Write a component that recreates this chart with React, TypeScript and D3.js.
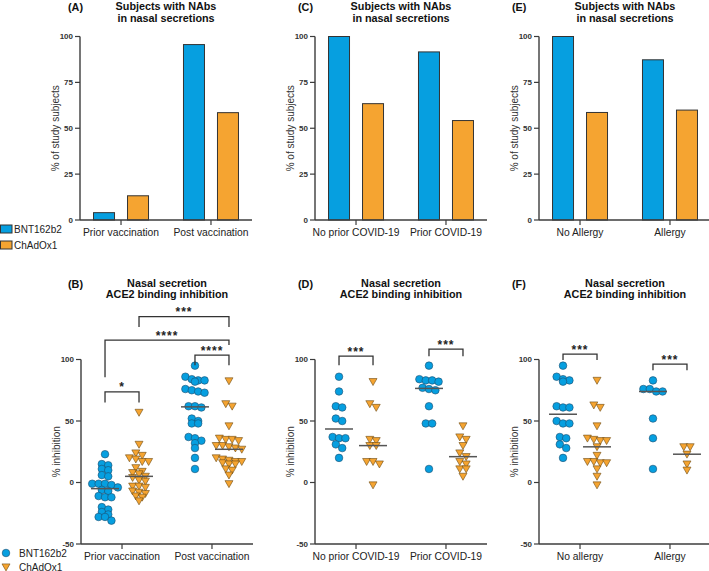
import React from "react";
import * as d3 from "d3";

const FONT = "Arial, 'Liberation Sans', Helvetica, sans-serif";
const BLUE = "#069fe0";
const ORANGE = "#f5a431";
const AXIS = "#3c3c3c";

// categories
const series = ["BNT162b2", "ChAdOx1"];
const groupsAB = ["Prior vaccination", "Post vaccination"];
const groupsCD = ["No prior COVID-19", "Prior COVID-19"];
const groupsE = ["No Allergy", "Allergy"];
const groupsF = ["No allergy", "Allergy"];

// % of subjects with NAbs (bars)
const barA_BNT = [4, 95.6];
const barA_ChAd = [13.2, 58.5];
const barC_BNT = [100, 91.6];
const barC_ChAd = [63.4, 54.2];
const barE_BNT = [100, 87.3];
const barE_ChAd = [58.6, 59.9];

const pctTicks = [0, 25, 50, 75, 100];
const inhTicks = [-50, 0, 50, 100];

// % ACE2 binding inhibition (dots)
const bPriorBNT = [23, 15, 14, 11, 10, 6, 5, -1, -1, -1, -2, -4, -6, -7, -11, -12, -12, -20, -22, -24, -26, -28, -28, -31];
const bPriorChAd = [57, 31, 24, 22, 20, 19, 17, 17, 12, 9, 8, 7, 5, 4, 2, 1, -3, -3, -4, -7, -8, -9, -11, -12, -15];
const bPostBNT = [95, 86, 84, 83, 83, 82, 76, 75, 74, 73, 62, 62, 61, 52, 50, 48, 48, 37, 36, 34, 32, 28, 20, 11];
const bPostChAd = [82.6, 64, 62, 46, 36, 35, 35, 34, 30, 30, 29, 28, 27, 20, 19, 18, 17, 17, 16, 15, 15, 11, 10, 6, -1];

const dNoPriorBNT = [86, 74, 62, 61, 52, 50, 37, 36, 36, 31, 28, 20];
const dNoPriorChAd = [82, 64, 61, 35, 34, 30, 30, 17, 17, 15, -2];
const dPriorBNT = [95, 84, 83, 83, 82, 77, 76, 75, 62, 48, 48, 11];
const dPriorChAd = [46, 37, 35, 30, 24, 21, 17, 15, 11, 11, 5];

const fNoAllergyBNT = [95, 86, 84, 83, 82, 62, 61, 61, 50, 48, 48, 37, 36, 31, 28, 20];
const fNoAllergyChAd = [83, 63, 61, 46, 36, 35, 34, 34, 29, 22, 17, 17, 16, 16, 11, 5, -2];
const fAllergyBNT = [83, 76, 76, 74, 74, 52, 36, 11];
const fAllergyChAd = [29, 29, 23, 15, 10];

// significance brackets: [group, series] endpoints, levels in % inhibition
const bracketsB = [
  { from: [0, 0], to: [0, 1], top: 73.6, l: 65, r: 65, label: "*" },
  { from: [0, 0], to: [1, 1], top: 115.8, l: 85.6, r: 111.7, label: "****" },
  { from: [0, 1], to: [1, 1], top: 134.8, l: 126.4, r: 126.4, label: "***" },
  { from: [1, 0], to: [1, 1], top: 103.5, l: 95.4, r: 95.4, label: "****" },
];
const bracketsD = [
  { from: [0, 0], to: [0, 1], top: 102.7, l: 95.4, r: 95.4, label: "***" },
  { from: [1, 0], to: [1, 1], top: 108.4, l: 102.7, r: 102.7, label: "***" },
];
const bracketsF = [
  { from: [0, 0], to: [0, 1], top: 104.3, l: 99.5, r: 99.5, label: "***" },
  { from: [1, 0], to: [1, 1], top: 96.2, l: 91.3, r: 91.3, label: "***" },
];

const PW = 172;
const OFF = 17;
const R = 3.8;

function Title({ cx, y1, letter, lx, lines }) {
  return (
    <g fontFamily={FONT} fontWeight="bold" fontSize={10.8} fill="#111">
      <text x={lx} y={y1 + 1}>{letter}</text>
      <text x={cx} y={y1} textAnchor="middle">{lines[0]}</text>
      <text x={cx} y={y1 + 11.5} textAnchor="middle">{lines[1]}</text>
    </g>
  );
}

function Axes({ x0, x, y, ticks, yLabel, groups }) {
  const [yb, yt] = y.range();
  return (
    <g>
      <line x1={x0} x2={x0} y1={yb} y2={yt} stroke={AXIS} strokeWidth={1.4} />
      <line x1={x0} x2={x0 + PW} y1={yb} y2={yb} stroke={AXIS} strokeWidth={1.4} />
      {ticks.map((t) => (
        <g key={t}>
          <line x1={x0 - 5} x2={x0} y1={y(t)} y2={y(t)} stroke={AXIS} strokeWidth={1.2} />
          <text x={x0 - 7} y={y(t)} dy="0.35em" textAnchor="end" fontFamily={FONT} fontWeight="bold" fontSize={8} fill="#333">{t}</text>
        </g>
      ))}
      {groups.map((g) => (
        <g key={g}>
          <line x1={x(g)} x2={x(g)} y1={yb} y2={yb + 5} stroke={AXIS} strokeWidth={1.2} />
          <text x={x(g)} y={yb + 15.5} textAnchor="middle" fontFamily={FONT} fontSize={10.3} fill="#222">{g}</text>
        </g>
      ))}
      <text transform={`translate(${x0 - 25},${(yb + yt) / 2}) rotate(-90)`} textAnchor="middle" dy="0.35em" fontFamily={FONT} fontSize={10} fill="#333">{yLabel}</text>
    </g>
  );
}

function BarPanel({ x0, lx, letter, groups, bnt, chad }) {
  const x = d3.scalePoint().domain(groups).range([x0, x0 + PW]).padding(0.456);
  const y = d3.scaleLinear().domain([0, 100]).range([220, 36.5]);
  const s = d3.scalePoint().domain(series).range([-OFF, OFF]);
  const vals = [bnt, chad];
  return (
    <g>
      <Title cx={x0 + PW / 2} y1={10} letter={letter} lx={lx} lines={["Subjects with NAbs", "in nasal secretions"]} />
      {groups.map((g, gi) =>
        series.map((sr, si) => (
          <rect key={g + sr} x={x(g) + s(sr) - 10.5} width={21} y={y(vals[si][gi])} height={y(0) - y(vals[si][gi])}
            fill={si === 0 ? BLUE : ORANGE} stroke="#333" strokeWidth={1} />
        ))
      )}
      <Axes x0={x0} x={x} y={y} ticks={pctTicks} yLabel="% of study subjects" groups={groups} />
    </g>
  );
}

function swarm(vals, y, cx) {
  const pts = vals.map((v) => ({ v, py: y(v), px: cx })).sort((a, b) => a.py - b.py);
  const rows = [];
  pts.forEach((p) => {
    const row = rows[rows.length - 1];
    if (row && p.py - row[0].py < 4.6) row.push(p);
    else rows.push([p]);
  });
  rows.forEach((row) => row.forEach((p, i) => (p.px = cx + (i - (row.length - 1) / 2) * 6.4)));
  return pts;
}

const tri = (x, y) => `M${x - 4},${y - 3.1}L${x + 4},${y - 3.1}L${x},${y + 3.9}Z`;

function DotPanel({ x0, lx, letter, groups, data, brackets }) {
  const x = d3.scalePoint().domain(groups).range([x0, x0 + PW]).padding(0.456);
  const y = d3.scaleLinear().domain([-50, 100]).range([544, 359.5]);
  const s = d3.scalePoint().domain(series).range([-OFF, OFF]);
  const cx = (gi, si) => x(groups[gi]) + s(series[si]);
  return (
    <g>
      <Title cx={x0 + PW / 2} y1={286.5} letter={letter} lx={lx} lines={["Nasal secretion", "ACE2 binding inhibition"]} />
      <Axes x0={x0} x={x} y={y} ticks={inhTicks} yLabel="% inhibition" groups={groups} />
      {data.map((grp, gi) =>
        grp.map((vals, si) => {
          const c = cx(gi, si);
          const pts = swarm(vals, y, c);
          const med = d3.median(vals);
          return (
            <g key={`${gi}-${si}`}>
              {pts.map((p, i) =>
                si === 0 ? (
                  <circle key={i} cx={p.px} cy={p.py} r={R} fill={BLUE} stroke="#1d4e6e" strokeWidth={0.6} />
                ) : (
                  <path key={i} d={tri(p.px, p.py)} fill={ORANGE} stroke="#6b4a12" strokeWidth={0.6} />
                )
              )}
              <line x1={c - 14} x2={c + 14} y1={y(med)} y2={y(med)} stroke="#555" strokeWidth={1.5} />
            </g>
          );
        })
      )}
      {brackets.map((b, i) => {
        const xa = cx(b.from[0], b.from[1]);
        const xb = cx(b.to[0], b.to[1]);
        return (
          <g key={i}>
            <path d={`M${xa},${y(b.l)}V${y(b.top)}H${xb}V${y(b.r)}`} fill="none" stroke="#333" strokeWidth={1.3} />
            <text x={(xa + xb) / 2} y={y(b.top) - 0.5} textAnchor="middle" fontFamily={FONT} fontWeight="bold" fontSize={12} letterSpacing={1} fill="#222">{b.label}</text>
          </g>
        );
      })}
    </g>
  );
}

export default function App() {
  return (
    <svg width={709} height={571} style={{ position: "absolute", left: 0, top: 0, background: "#fff" }}>
      <rect width={709} height={571} fill="#fff" />
      <BarPanel x0={80} lx={68} letter="(A)" groups={groupsAB} bnt={barA_BNT} chad={barA_ChAd} />
      <BarPanel x0={315} lx={298} letter="(C)" groups={groupsCD} bnt={barC_BNT} chad={barC_ChAd} />
      <BarPanel x0={539} lx={512} letter="(E)" groups={groupsE} bnt={barE_BNT} chad={barE_ChAd} />

      <DotPanel x0={81} lx={68} letter="(B)" groups={groupsAB} data={[[bPriorBNT, bPriorChAd], [bPostBNT, bPostChAd]]} brackets={bracketsB} />
      <DotPanel x0={315} lx={298} letter="(D)" groups={groupsCD} data={[[dNoPriorBNT, dNoPriorChAd], [dPriorBNT, dPriorChAd]]} brackets={bracketsD} />
      <DotPanel x0={539} lx={512} letter="(F)" groups={groupsF} data={[[fNoAllergyBNT, fNoAllergyChAd], [fAllergyBNT, fAllergyChAd]]} brackets={bracketsF} />

      {/* legend for bars */}
      <g fontFamily={FONT} fontSize={10} fill="#222">
        {series.map((sr, i) => (
          <g key={sr} transform={`translate(0,${225 + i * 16})`}>
            <rect x={0.5} y={0} width={11.5} height={8} fill={i === 0 ? BLUE : ORANGE} stroke="#333" strokeWidth={1} />
            <text x={14} y={4} dy="0.35em">{sr}</text>
          </g>
        ))}
      </g>
      {/* legend for dots */}
      <g fontFamily={FONT} fontSize={10} fill="#222">
        {series.map((sr, i) => (
          <g key={sr} transform={`translate(6,${553 + i * 14})`}>
            {i === 0 ? (
              <circle r={R} fill={BLUE} stroke="#1d4e6e" strokeWidth={0.6} />
            ) : (
              <path d={tri(0, 0)} fill={ORANGE} stroke="#6b4a12" strokeWidth={0.6} />
            )}
            <text x={13} y={0} dy="0.35em">{sr}</text>
          </g>
        ))}
      </g>
    </svg>
  );
}
